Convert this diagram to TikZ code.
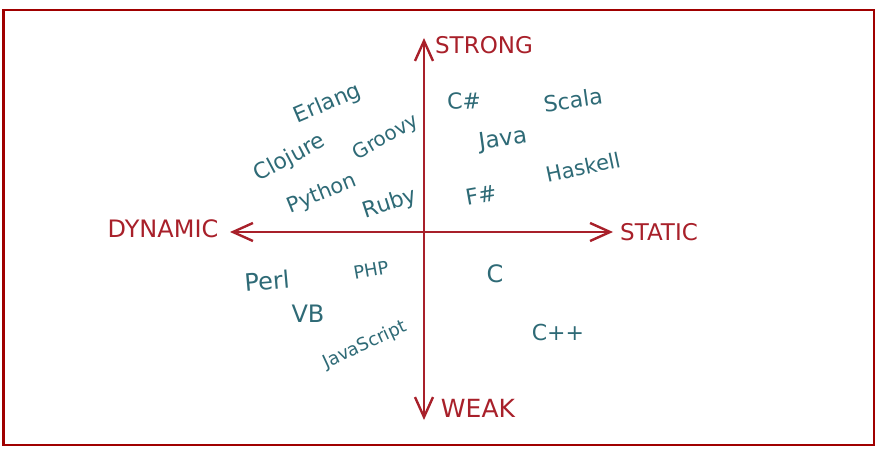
\documentclass[tikz,border=0pt]{standalone}
\usepackage{fontspec}
\setmainfont{DejaVu Sans}
\usepackage{xcolor}
\usepackage{tikz}
\usetikzlibrary{arrows.meta, positioning, calc}

\definecolor{framered}{HTML}{A00000}
\definecolor{axisred}{HTML}{A8202A}
\definecolor{langteal}{HTML}{2E6A76}

\begin{document}
\begin{tikzpicture}[x=1pt, y=-1pt, >={Straight Barb[length=20pt, width=18pt]},
  axis/.style={draw=axisred, line width=2.4pt},
  axlabel/.style={text=axisred, font=\fontsize{23}{23}\selectfont, inner sep=0pt},
  lang/.style={text=langteal, font=\fontsize{22}{22}\selectfont, inner sep=0pt},
  fs/.style={font=\fontsize{#1}{#1}\selectfont}]
  \useasboundingbox (0,0) rectangle (889,452);
  \draw[framered, line width=2.4pt] (3.5,10) rectangle (874,445);

  % axis ends
  \coordinate (up) at (424,38);
  \coordinate (down) at (424,420);
  \coordinate (left) at (230,232);
  \coordinate (right) at (613,232);
  \draw[axis, <->] (down) -- (up);
  \draw[axis, <->] (left) -- (right);

  \node[axlabel] (strong) at (484,45) {STRONG};
  \node[axlabel, fs=25] (weak) at (478,408) {WEAK};
  \node[axlabel, fs=24] (dynamic) at (163,229) {DYNAMIC};
  \node[axlabel] (static) at (659,232) {STATIC};

  % dynamic + strong
  \node[lang, rotate=23, fs=22] (erlang) at (328,104) {Erlang};
  \node[lang, rotate=28, fs=22] (clojure) at (290,158) {Clojure};
  \node[lang, rotate=30, fs=20] (groovy) at (386,138) {Groovy};
  \node[lang, rotate=22, fs=21] (python) at (322,194) {Python};
  \node[lang, rotate=18] (ruby) at (390,204) {Ruby};
  % static + strong
  \node[lang, rotate=3] (csharp) at (464,101) {C\#};
  \node[lang, rotate=8] (scala) at (573,100) {Scala};
  \node[lang, rotate=8, fs=23] (java) at (503,140) {Java};
  \node[lang, rotate=12, fs=21] (haskell) at (583,167) {Haskell};
  \node[lang, rotate=10] (fsharp) at (481,195) {F\#};
  % dynamic + weak
  \node[lang, rotate=5, fs=24] (perl) at (267,281) {Perl};
  \node[lang, rotate=10, fs=18] (php) at (371,270) {PHP};
  \node[lang, fs=24] (vb) at (308,314) {VB};
  \node[lang, rotate=25, fs=18] (javascript) at (365,345) {JavaScript};
  % static + weak
  \node[lang, fs=24] (c) at (495,274) {C};
  \node[lang] (cpp) at (558,332) {C++};
\end{tikzpicture}
\end{document}
